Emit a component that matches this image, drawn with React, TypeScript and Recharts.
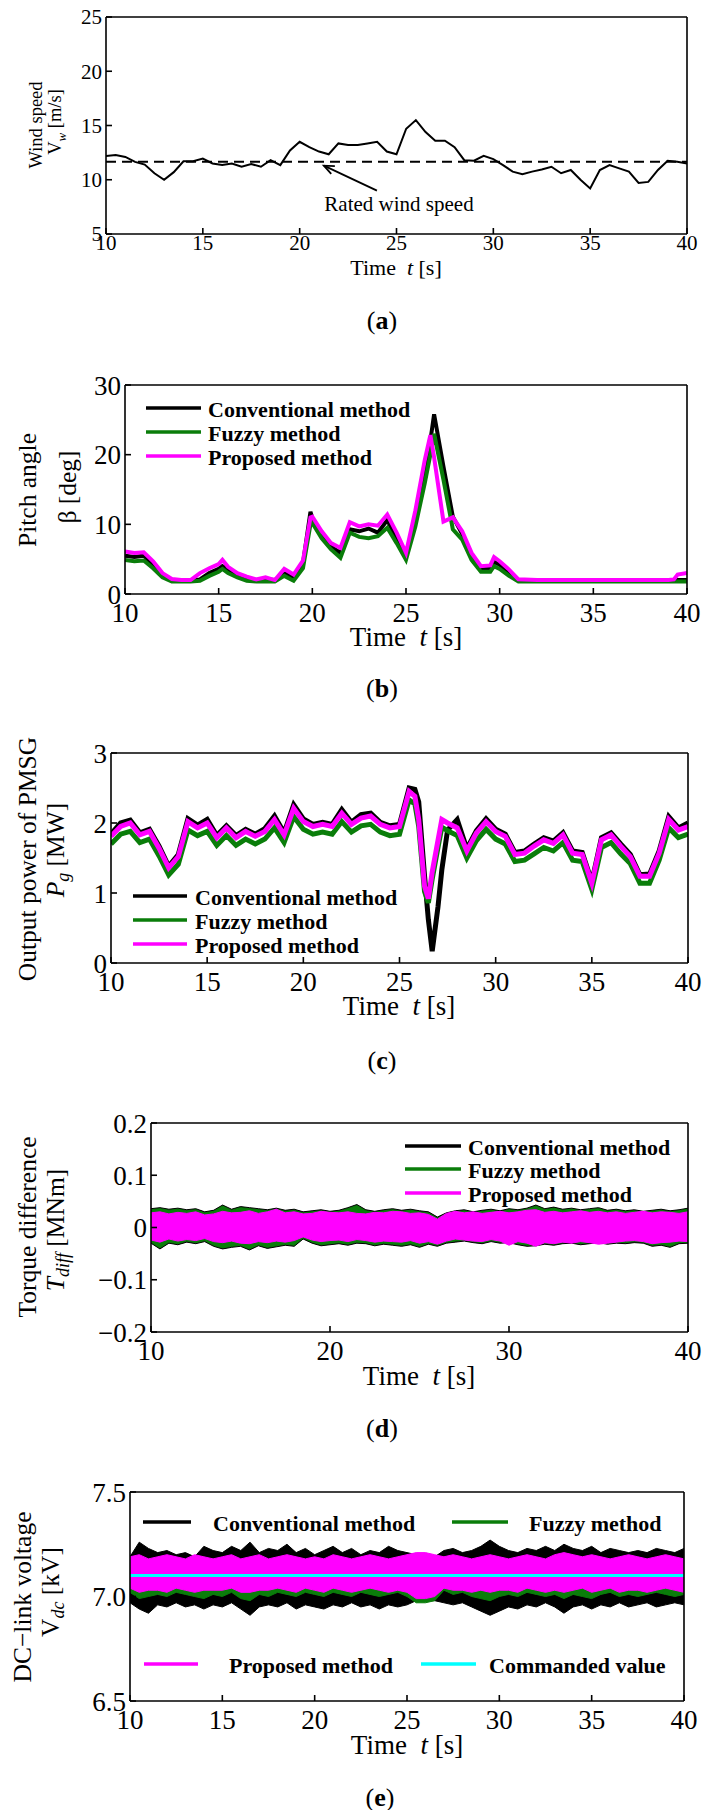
import React from 'react';
import { ComposedChart, Line, Area, XAxis, YAxis, ReferenceLine, ReferenceDot } from 'recharts';

const FONT = '"Liberation Serif", "Times New Roman", serif';
const BLACK = '#000000';
const GREEN = '#0a7d0a';
const MAGENTA = '#ff00ff';
const CYAN = '#00ffff';

// common 0.5 s time grid (panels a, d, e)
const T61 = [
  10, 10.5, 11, 11.5, 12, 12.5, 13, 13.5, 14, 14.5, 15, 15.5, 16, 16.5, 17, 17.5, 18, 18.5, 19, 19.5,
  20, 20.5, 21, 21.5, 22, 22.5, 23, 23.5, 24, 24.5, 25, 25.5, 26, 26.5, 27, 27.5, 28, 28.5, 29, 29.5,
  30, 30.5, 31, 31.5, 32, 32.5, 33, 33.5, 34, 34.5, 35, 35.5, 36, 36.5, 37, 37.5, 38, 38.5, 39, 39.5, 40,
];

// (a) wind speed [m/s]
const WIND = [
  12.2, 12.27, 12.1, 11.65, 11.4, 10.6, 10.0, 10.7, 11.7, 11.7,
  11.95, 11.5, 11.35, 11.5, 11.2, 11.45, 11.2, 11.8, 11.35, 12.7,
  13.5, 13.0, 12.6, 12.35, 13.35, 13.2, 13.2, 13.35, 13.5, 12.6,
  12.35, 14.7, 15.5, 14.4, 13.6, 13.6, 13.0, 11.8, 11.75, 12.2,
  11.9, 11.35, 10.75, 10.5, 10.75, 10.95, 11.2, 10.6, 10.9, 10.0,
  9.2, 10.9, 11.35, 11.05, 10.75, 9.7, 9.8, 10.9, 11.75, 11.65,
  11.5,
];
const RATED_WIND = 11.65;

// (b) pitch angle [deg]
const T_B = [
  10, 10.5, 11, 11.5, 12, 12.5, 13, 13.5, 14, 14.5,
  15, 15.2, 15.5, 16, 16.5, 17, 17.5, 18, 18.5, 19,
  19.5, 19.9, 20, 20.5, 21, 21.5, 22, 22.5, 23, 23.5,
  24, 24.5, 25, 25.5, 26, 26.3, 26.5, 27, 27.5, 28,
  28.5, 29, 29.5, 29.7, 30, 30.5, 31, 32, 33, 34,
  35, 36, 37, 38, 39, 39.3, 39.5, 40,
];
const PITCH_CONV = [
  5.5, 5.3, 5.5, 4.2, 2.8, 2.0, 2.0, 2.0, 2.1, 3.0,
  3.6, 4.0, 3.5, 2.8, 2.3, 2.0, 2.1, 2.0, 3.0, 2.4,
  4.4, 11.8, 10.9, 8.5, 6.8, 5.9, 9.3, 9.0, 9.4, 8.8,
  10.6, 8.0, 5.4, 10.6, 17.3, 22.0, 25.8, 18.3, 11.1, 8.6,
  5.4, 3.7, 3.6, 4.6, 4.2, 3.0, 2.0, 2.0, 2.0, 2.0,
  2.0, 2.0, 2.0, 2.0, 2.0, 2.0, 2.0, 2.0,
];
const PITCH_FUZZY = [
  4.9, 4.7, 4.8, 3.7, 2.4, 1.8, 1.8, 1.8, 1.9, 2.6,
  3.2, 3.6, 3.0, 2.4, 1.9, 1.8, 1.8, 1.8, 2.6, 1.9,
  3.7, 10.0, 10.2, 8.0, 6.4, 5.2, 8.8, 8.2, 8.0, 8.3,
  9.5, 7.3, 4.9, 9.7, 15.9, 20.0, 23.0, 16.4, 9.3, 7.8,
  4.9, 3.2, 3.2, 4.0, 3.6, 2.6, 1.8, 1.8, 1.8, 1.8,
  1.8, 1.8, 1.8, 1.8, 1.8, 1.8, 1.8, 1.8,
];
const PITCH_PROP = [
  6.1, 5.9, 6.0, 4.7, 3.0, 2.15, 2.0, 2.0, 3.0, 3.7,
  4.3, 4.9, 3.9, 3.0, 2.5, 2.1, 2.4, 2.0, 3.6, 2.8,
  4.8, 11.0, 11.1, 9.0, 7.3, 6.6, 10.3, 9.7, 10.0, 9.8,
  11.4, 8.8, 5.9, 12.0, 19.2, 22.8, 19.6, 10.4, 11.0, 9.0,
  5.9, 4.0, 4.1, 5.3, 4.7, 3.5, 2.1, 2.0, 2.0, 2.0,
  2.0, 2.0, 2.0, 2.0, 2.0, 2.1, 2.8, 3.0,
];

// (c) output power of PMSG [MW]
const T_C = [
  10, 10.5, 11, 11.5, 12, 12.5, 13, 13.5, 14, 14.5,
  15, 15.5, 16, 16.5, 17, 17.5, 18, 18.5, 19, 19.5,
  20, 20.5, 21, 21.5, 22, 22.5, 23, 23.5, 24, 24.5,
  25, 25.5, 25.8, 26, 26.3, 26.5, 26.7, 27, 27.2, 27.5,
  28, 28.5, 29, 29.5, 30, 30.5, 31, 31.5, 32, 32.5,
  33, 33.5, 34, 34.5, 35, 35.5, 36, 36.5, 37, 37.5,
  38, 38.5, 39, 39.5, 40,
];
const POWER_CONV = [
  1.84, 2.0, 2.04, 1.86, 1.91, 1.67, 1.38, 1.55, 2.06, 1.97,
  2.05, 1.82, 1.96, 1.82, 1.91, 1.84, 1.92, 2.1, 1.86, 2.26,
  2.06, 1.98, 2.01, 1.98, 2.19, 2.01, 2.12, 2.14, 2.01, 1.96,
  1.98, 2.5, 2.48, 2.3, 1.25, 0.62, 0.17, 0.8, 1.33, 1.9,
  2.05, 1.63, 1.89, 2.06, 1.91, 1.84, 1.58, 1.6, 1.7, 1.79,
  1.74, 1.86, 1.6, 1.58, 1.16, 1.79, 1.86, 1.7, 1.55, 1.26,
  1.27, 1.6, 2.09, 1.93, 2.0,
];
const POWER_FUZZY = [
  1.7, 1.84, 1.88, 1.72, 1.77, 1.53, 1.26, 1.41, 1.9, 1.82,
  1.88, 1.68, 1.82, 1.68, 1.77, 1.7, 1.77, 1.93, 1.72, 2.09,
  1.91, 1.84, 1.87, 1.84, 2.02, 1.87, 1.96, 1.98, 1.87, 1.82,
  1.84, 2.33, 2.27, 1.95, 1.02, 0.86, 1.2, 1.65, 1.94, 1.89,
  1.82, 1.5, 1.75, 1.91, 1.77, 1.7, 1.45, 1.47, 1.56, 1.65,
  1.6, 1.72, 1.47, 1.45, 1.05, 1.65, 1.72, 1.56, 1.42, 1.14,
  1.14, 1.47, 1.93, 1.79, 1.84,
];
const POWER_PROP = [
  1.81, 1.95, 2.0, 1.83, 1.88, 1.64, 1.36, 1.52, 2.02, 1.93,
  2.0, 1.79, 1.93, 1.79, 1.88, 1.81, 1.88, 2.05, 1.83, 2.21,
  2.02, 1.95, 1.98, 1.95, 2.14, 1.98, 2.07, 2.1, 1.98, 1.93,
  1.95, 2.45, 2.38, 2.05, 1.1, 0.92, 1.3, 1.75, 2.05, 2.0,
  1.93, 1.6, 1.86, 2.02, 1.88, 1.81, 1.55, 1.57, 1.67, 1.76,
  1.71, 1.83, 1.57, 1.55, 1.14, 1.76, 1.83, 1.67, 1.52, 1.24,
  1.24, 1.57, 2.05, 1.9, 1.95,
];

// (d) torque difference [MNm], upper / lower envelope of each trace
const TQ_CONV_HI = [
  0.036, 0.038, 0.035, 0.037, 0.034, 0.036, 0.03, 0.033, 0.043, 0.035,
  0.04, 0.038, 0.036, 0.034, 0.037, 0.033, 0.035, 0.03, 0.032, 0.034,
  0.031, 0.033, 0.038, 0.044, 0.034, 0.031, 0.034, 0.036, 0.033, 0.035,
  0.032, 0.03, 0.02, 0.028, 0.032, 0.034, 0.03, 0.033, 0.035, 0.032,
  0.036, 0.034, 0.037, 0.043, 0.036, 0.039, 0.035, 0.037, 0.034, 0.036,
  0.038, 0.033, 0.035, 0.032, 0.034, 0.031, 0.033, 0.035, 0.032, 0.034,
  0.037,
];
const TQ_CONV_LO = [
  -0.03, -0.041, -0.03, -0.033, -0.028, -0.031, -0.027, -0.036, -0.041, -0.038,
  -0.036, -0.043, -0.035, -0.04, -0.037, -0.034, -0.036, -0.022, -0.03, -0.035,
  -0.033, -0.031, -0.034, -0.03, -0.031, -0.035, -0.032, -0.034, -0.036, -0.033,
  -0.038, -0.032, -0.036, -0.03, -0.028, -0.026, -0.029, -0.031, -0.027, -0.03,
  -0.029, -0.033, -0.036, -0.035, -0.032, -0.034, -0.031, -0.03, -0.033, -0.031,
  -0.029, -0.032, -0.03, -0.031, -0.029, -0.03, -0.036, -0.034, -0.038, -0.031,
  -0.03,
];
const TQ_FUZZY_HI = [
  0.034, 0.036, 0.033, 0.035, 0.032, 0.034, 0.028, 0.031, 0.041, 0.033,
  0.038, 0.036, 0.034, 0.032, 0.035, 0.031, 0.033, 0.028, 0.03, 0.032,
  0.029, 0.031, 0.036, 0.042, 0.032, 0.029, 0.032, 0.034, 0.031, 0.033,
  0.03, 0.028, 0.018, 0.026, 0.03, 0.032, 0.028, 0.031, 0.033, 0.03,
  0.034, 0.032, 0.035, 0.041, 0.034, 0.037, 0.033, 0.035, 0.032, 0.034,
  0.036, 0.031, 0.033, 0.03, 0.032, 0.029, 0.031, 0.033, 0.03, 0.032,
  0.035,
];
const TQ_FUZZY_LO = [
  -0.028, -0.039, -0.028, -0.031, -0.026, -0.029, -0.025, -0.034, -0.039, -0.036,
  -0.034, -0.041, -0.033, -0.038, -0.035, -0.032, -0.034, -0.02, -0.028, -0.033,
  -0.031, -0.029, -0.032, -0.028, -0.029, -0.033, -0.03, -0.032, -0.034, -0.031,
  -0.036, -0.03, -0.034, -0.028, -0.026, -0.024, -0.027, -0.029, -0.025, -0.028,
  -0.027, -0.031, -0.034, -0.033, -0.03, -0.032, -0.029, -0.028, -0.031, -0.029,
  -0.027, -0.03, -0.028, -0.029, -0.027, -0.028, -0.034, -0.032, -0.036, -0.029,
  -0.028,
];
const TQ_PROP_HI = [
  0.028, 0.03, 0.026, 0.029, 0.027, 0.03, 0.024, 0.026, 0.031, 0.028,
  0.029, 0.032, 0.027, 0.03, 0.035, 0.028, 0.03, 0.026, 0.027, 0.031,
  0.029, 0.028, 0.03, 0.027, 0.026, 0.029, 0.028, 0.031, 0.03, 0.027,
  0.028, 0.025, 0.016, 0.027, 0.031, 0.028, 0.03, 0.027, 0.029, 0.031,
  0.028, 0.03, 0.033, 0.034, 0.029, 0.031, 0.028, 0.03, 0.032, 0.029,
  0.031, 0.028, 0.03, 0.027, 0.029, 0.031, 0.028, 0.03, 0.029, 0.027,
  0.03,
];
const TQ_PROP_LO = [
  -0.024, -0.028, -0.022, -0.026, -0.023, -0.025, -0.021, -0.027, -0.029, -0.026,
  -0.03, -0.031, -0.027, -0.029, -0.026, -0.028, -0.025, -0.018, -0.024, -0.027,
  -0.025, -0.024, -0.027, -0.023, -0.025, -0.028, -0.026, -0.027, -0.028, -0.025,
  -0.03, -0.027, -0.032, -0.026, -0.022, -0.024, -0.026, -0.027, -0.023, -0.026,
  -0.034, -0.027, -0.03, -0.036, -0.029, -0.031, -0.028, -0.03, -0.027, -0.029,
  -0.032, -0.03, -0.028, -0.026, -0.025, -0.027, -0.031, -0.029, -0.028, -0.026,
  -0.027,
];

// (e) DC-link voltage [kV], upper / lower envelope of each trace
const VDC_CONV_HI = [
  7.19, 7.26, 7.23, 7.21, 7.22, 7.2, 7.21, 7.19, 7.24, 7.22,
  7.21, 7.24, 7.22, 7.26, 7.21, 7.23, 7.22, 7.25, 7.21, 7.23,
  7.2, 7.22, 7.24, 7.21, 7.23, 7.2, 7.22, 7.21, 7.24, 7.22,
  7.21, 7.2, 7.2, 7.19, 7.22, 7.23, 7.21, 7.22, 7.24, 7.27,
  7.24, 7.22, 7.21, 7.23, 7.22, 7.24, 7.22, 7.25, 7.23, 7.22,
  7.24, 7.21, 7.23, 7.22, 7.21, 7.22, 7.21, 7.23, 7.22, 7.21,
  7.23,
];
const VDC_CONV_LO = [
  6.97, 6.94, 6.92, 6.96, 6.95, 6.97, 6.95, 6.96, 6.94, 6.96,
  6.95, 6.97, 6.94, 6.91, 6.95, 6.96, 6.95, 6.97, 6.94, 6.96,
  6.95, 6.94, 6.96, 6.95, 6.97, 6.95, 6.96, 6.94, 6.96, 6.95,
  6.96, 6.98, 6.98, 6.98, 6.97, 6.96, 6.97, 6.95, 6.93, 6.91,
  6.93, 6.95, 6.94, 6.96, 6.95, 6.97, 6.95, 6.92, 6.95, 6.96,
  6.94, 6.96, 6.95, 6.97, 6.95, 6.96, 6.97, 6.95, 6.96, 6.97,
  6.96,
];
const VDC_FUZZY_HI = [
  7.17, 7.16, 7.18, 7.17, 7.16, 7.18, 7.17, 7.16, 7.17, 7.18,
  7.17, 7.18, 7.16, 7.17, 7.18, 7.16, 7.17, 7.18, 7.17, 7.16,
  7.17, 7.16, 7.18, 7.17, 7.16, 7.17, 7.18, 7.17, 7.16, 7.17,
  7.18, 7.19, 7.19, 7.18, 7.17, 7.18, 7.17, 7.16, 7.17, 7.18,
  7.17, 7.16, 7.17, 7.18, 7.17, 7.16, 7.18, 7.19, 7.18, 7.17,
  7.18, 7.17, 7.16, 7.17, 7.18, 7.17, 7.16, 7.17, 7.18, 7.17,
  7.16,
];
const VDC_FUZZY_LO = [
  7.02, 6.99, 7.0, 7.01, 7.0, 7.02, 7.01, 7.0, 6.99, 7.01,
  7.0, 7.02, 6.99, 6.98, 7.01, 7.0, 7.02, 7.01, 7.0, 7.02,
  7.01, 7.0, 7.02, 7.01, 7.0, 7.02, 7.01, 7.0, 7.01, 7.02,
  7.0, 6.97, 6.97, 6.98, 7.03, 7.01, 7.02, 7.0, 6.99, 6.98,
  7.0, 7.01, 7.0, 7.02, 7.01, 7.0, 7.01, 6.99, 7.01, 7.0,
  6.99, 7.01, 7.02, 7.0, 7.01, 7.0, 7.01, 7.02, 7.01, 7.0,
  7.01,
];
const VDC_PROP_HI = [
  7.19, 7.2, 7.18, 7.19, 7.2, 7.19, 7.18, 7.2, 7.19, 7.18,
  7.19, 7.2, 7.18, 7.19, 7.2, 7.18, 7.19, 7.2, 7.19, 7.18,
  7.19, 7.18, 7.2, 7.19, 7.18, 7.19, 7.2, 7.19, 7.18, 7.19,
  7.2, 7.21, 7.21, 7.2, 7.19, 7.2, 7.19, 7.18, 7.19, 7.2,
  7.19, 7.18, 7.19, 7.2, 7.19, 7.18, 7.2, 7.21, 7.2, 7.19,
  7.2, 7.19, 7.18, 7.19, 7.2, 7.19, 7.18, 7.19, 7.2, 7.19,
  7.18,
];
const VDC_PROP_LO = [
  7.04, 7.02, 7.03, 7.03, 7.02, 7.04, 7.03, 7.02, 7.03, 7.03,
  7.03, 7.04, 7.02, 7.02, 7.03, 7.03, 7.04, 7.03, 7.02, 7.04,
  7.03, 7.02, 7.04, 7.03, 7.02, 7.03, 7.04, 7.03, 7.02, 7.03,
  7.02, 6.99, 6.99, 7.0, 7.04, 7.03, 7.03, 7.02, 7.03, 7.02,
  7.03, 7.03, 7.02, 7.04, 7.03, 7.02, 7.03, 7.02, 7.03, 7.04,
  7.02, 7.03, 7.04, 7.02, 7.03, 7.03, 7.02, 7.03, 7.04, 7.03,
  7.02,
];
const VDC_COMMAND = 7.1;

const windRows = T61.map((t, i) => ({ t, v: WIND[i] }));
const pitchRows = T_B.map((t, i) => ({ t, conv: PITCH_CONV[i], fuzzy: PITCH_FUZZY[i], prop: PITCH_PROP[i] }));
const powerRows = T_C.map((t, i) => ({ t, conv: POWER_CONV[i], fuzzy: POWER_FUZZY[i], prop: POWER_PROP[i] }));
const torqueRows = T61.map((t, i) => ({
  t,
  conv: [TQ_CONV_LO[i], TQ_CONV_HI[i]],
  fuzzy: [TQ_FUZZY_LO[i], TQ_FUZZY_HI[i]],
  prop: [TQ_PROP_LO[i], TQ_PROP_HI[i]],
}));
const vdcRows = T61.map((t, i) => ({
  t,
  conv: [VDC_CONV_LO[i], VDC_CONV_HI[i]],
  fuzzy: [VDC_FUZZY_LO[i], VDC_FUZZY_HI[i]],
  prop: [VDC_PROP_LO[i], VDC_PROP_HI[i]],
}));

type Box = { left: number; right: number; top: number; bottom: number };

const AXIS = { stroke: '#000', strokeWidth: 1.6 };

function Panel({
  box, rows, yDomain, yTicks, xTicks, fs, gap, yFmt, children,
}: {
  box: Box; rows: any[]; yDomain: [number, number]; yTicks: number[]; xTicks: number[];
  fs: number; gap: number; yFmt?: (v: number) => string; children: React.ReactNode;
}) {
  const padTop = 24;
  const padBottom = 44;
  const height = box.bottom - box.top + padTop + padBottom;
  const tickStyle = { fontSize: fs, fill: '#000', fontFamily: FONT };
  return (
    <div style={{ position: 'absolute', left: 0, top: box.top - padTop }}>
      <ComposedChart
        width={704}
        height={height}
        data={rows}
        margin={{ top: padTop - 1, right: 704 - box.right - 1, bottom: 0, left: 0 }}
      >
        <XAxis xAxisId="b" dataKey="t" type="number" domain={[10, 40]} ticks={xTicks} interval={0}
          allowDataOverflow height={padBottom} tickSize={-6} tickMargin={gap} tick={tickStyle}
          axisLine={AXIS} tickLine={AXIS} />
        <XAxis xAxisId="t" orientation="top" dataKey="t" type="number" domain={[10, 40]} ticks={xTicks}
          interval={0} allowDataOverflow height={1} tickSize={-6} tick={false} axisLine={AXIS} tickLine={AXIS} />
        <YAxis yAxisId="l" type="number" domain={yDomain} ticks={yTicks} interval={0} allowDataOverflow
          width={box.left} tickSize={-6} tickMargin={10} tick={tickStyle} tickFormatter={yFmt}
          axisLine={AXIS} tickLine={AXIS} />
        <YAxis yAxisId="r" orientation="right" type="number" domain={yDomain} ticks={yTicks} interval={0}
          allowDataOverflow width={1} tickSize={-6} tick={false} axisLine={AXIS} tickLine={AXIS} />
        {children}
      </ComposedChart>
    </div>
  );
}

const ArrowShape = (p: any) => {
  const { x1, y1, x2, y2 } = p;
  const a = Math.atan2(y2 - y1, x2 - x1);
  const L = 11;
  const w = 0.4;
  const ax = x2 - L * Math.cos(a - w);
  const ay = y2 - L * Math.sin(a - w);
  const bx = x2 - L * Math.cos(a + w);
  const by = y2 - L * Math.sin(a + w);
  return (
    <g>
      <line x1={x1} y1={y1} x2={x2} y2={y2} stroke="#000" strokeWidth={1.8} />
      <polyline points={`${ax},${ay} ${x2},${y2} ${bx},${by}`} fill="none" stroke="#000" strokeWidth={1.8} />
    </g>
  );
};

const RatedText = (p: any) => (
  <text x={p.cx} y={p.cy} textAnchor="middle" dominantBaseline="central" fontSize={21} fontFamily={FONT} fill="#000">
    Rated wind speed
  </text>
);

const fmtTorque = (v: number) => (Math.abs(v) < 1e-9 ? '0' : (v < 0 ? '\u2212' : '') + Math.abs(v).toFixed(1));
const fmtVdc = (v: number) => v.toFixed(1);

const X5 = [10, 15, 20, 25, 30, 35, 40];
const X10 = [10, 20, 30, 40];

function VText({ x, y, size, children }: { x: number; y: number; size: number; children: React.ReactNode }) {
  return (
    <text transform={`translate(${x},${y}) rotate(-90)`} textAnchor="middle" dominantBaseline="central" fontSize={size}>
      {children}
    </text>
  );
}

function TimeLabel({ x, y, size }: { x: number; y: number; size: number }) {
  return (
    <text x={x} y={y} textAnchor="middle" dominantBaseline="central" fontSize={size}>
      Time{'\u00a0 '}<tspan fontStyle="italic">t</tspan> [s]
    </text>
  );
}

function Caption({ x, y, letter }: { x: number; y: number; letter: string }) {
  return (
    <text x={x} y={y} textAnchor="middle" dominantBaseline="central" fontSize={26}>
      (<tspan fontWeight="bold">{letter}</tspan>)
    </text>
  );
}

function Key({ x1, x2, tx, y, color, label }: { x1: number; x2: number; tx: number; y: number; color: string; label: string }) {
  return (
    <g>
      <line x1={x1} x2={x2} y1={y} y2={y} stroke={color} strokeWidth={3.5} />
      <text x={tx} y={y + 1} dominantBaseline="central" fontSize={22} fontWeight="bold">{label}</text>
    </g>
  );
}

function Overlay() {
  return (
    <svg width={704} height={1810} style={{ position: 'absolute', left: 0, top: 0, pointerEvents: 'none' }}
      fontFamily={FONT} fill="#000">
      {/* (a) */}
      <VText x={36} y={125} size={18.5}>Wind speed</VText>
      <VText x={55} y={122} size={18.5}>
        V<tspan dy={6} fontSize={13} fontStyle="italic">w</tspan><tspan dy={-6}> [m/s]</tspan>
      </VText>
      <TimeLabel x={396} y={267} size={22} />
      <Caption x={382} y={320} letter="a" />

      {/* (b) */}
      <VText x={27} y={490} size={25.5}>Pitch angle</VText>
      <VText x={67} y={487} size={25.5}>β [deg]</VText>
      <TimeLabel x={406} y={637} size={27} />
      <Caption x={382} y={688} letter="b" />
      <Key x1={146} x2={201} tx={208} y={408} color={BLACK} label="Conventional method" />
      <Key x1={146} x2={201} tx={208} y={432} color={GREEN} label="Fuzzy method" />
      <Key x1={146} x2={201} tx={208} y={456} color={MAGENTA} label="Proposed method" />

      {/* (c) */}
      <VText x={27} y={859} size={25.5}>Output power of PMSG</VText>
      <VText x={55} y={850} size={25.5}>
        <tspan fontStyle="italic">P</tspan><tspan dy={8} fontSize={18} fontStyle="italic">g</tspan><tspan dy={-8}> [MW]</tspan>
      </VText>
      <TimeLabel x={399} y={1006} size={27} />
      <Caption x={382} y={1060} letter="c" />
      <Key x1={133} x2={187} tx={195} y={896} color={BLACK} label="Conventional method" />
      <Key x1={133} x2={187} tx={195} y={920} color={GREEN} label="Fuzzy method" />
      <Key x1={133} x2={187} tx={195} y={944} color={MAGENTA} label="Proposed method" />

      {/* (d) */}
      <VText x={27} y={1227} size={25.5}>Torque difference</VText>
      <VText x={55} y={1230} size={25.5}>
        <tspan fontStyle="italic">T</tspan><tspan dy={8} fontSize={18} fontStyle="italic">diff</tspan><tspan dy={-8}> [MNm]</tspan>
      </VText>
      <TimeLabel x={419} y={1376} size={27} />
      <Caption x={382} y={1428} letter="d" />
      <Key x1={405} x2={461} tx={468} y={1146} color={BLACK} label="Conventional method" />
      <Key x1={405} x2={461} tx={468} y={1169} color={GREEN} label="Fuzzy method" />
      <Key x1={405} x2={461} tx={468} y={1193} color={MAGENTA} label="Proposed method" />

      {/* (e) */}
      <VText x={22} y={1597} size={25.5}>DC−link voltage</VText>
      <VText x={50} y={1592} size={25.5}>
        V<tspan dy={8} fontSize={18} fontStyle="italic">dc</tspan><tspan dy={-8}> [kV]</tspan>
      </VText>
      <TimeLabel x={407} y={1745} size={27} />
      <Caption x={380} y={1797} letter="e" />
      <Key x1={143} x2={191} tx={213} y={1522} color={BLACK} label="Conventional method" />
      <Key x1={452} x2={508} tx={529} y={1522} color={GREEN} label="Fuzzy method" />
      <Key x1={144} x2={198} tx={229} y={1664} color={MAGENTA} label="Proposed method" />
      <Key x1={421} x2={476} tx={489} y={1664} color={CYAN} label="Commanded value" />
    </svg>
  );
}

const lineProps = { xAxisId: 'b', yAxisId: 'l', type: 'linear' as const, dot: false, activeDot: false, isAnimationActive: false };

export default function App() {
  return (
    <div style={{ position: 'absolute', left: 0, top: 0, width: 704, height: 1810, background: '#fff', fontFamily: FONT }}>
      <Panel box={{ left: 106, right: 687, top: 17, bottom: 234 }} rows={windRows} yDomain={[5, 25]}
        yTicks={[5, 10, 15, 20, 25]} xTicks={X5} fs={21} gap={7}>
        <ReferenceLine xAxisId="b" yAxisId="l" y={RATED_WIND} stroke="#000" strokeWidth={2} strokeDasharray="10 6" />
        <Line {...lineProps} dataKey="v" stroke={BLACK} strokeWidth={2} />
        <ReferenceLine xAxisId="b" yAxisId="l" segment={[{ x: 23.99, y: 9.0 }, { x: 21.25, y: 11.3 }]} shape={ArrowShape} />
        <ReferenceDot xAxisId="b" yAxisId="l" x={25.13} y={7.77} r={0} shape={RatedText} />
      </Panel>

      <Panel box={{ left: 125, right: 687, top: 385, bottom: 594 }} rows={pitchRows} yDomain={[0, 30]}
        yTicks={[0, 10, 20, 30]} xTicks={X5} fs={27} gap={15}>
        <Line {...lineProps} dataKey="conv" stroke={BLACK} strokeWidth={4} />
        <Line {...lineProps} dataKey="fuzzy" stroke={GREEN} strokeWidth={4} />
        <Line {...lineProps} dataKey="prop" stroke={MAGENTA} strokeWidth={4} />
      </Panel>

      <Panel box={{ left: 111, right: 688, top: 753, bottom: 963 }} rows={powerRows} yDomain={[0, 3]}
        yTicks={[0, 1, 2, 3]} xTicks={X5} fs={27} gap={15}>
        <Line {...lineProps} dataKey="conv" stroke={BLACK} strokeWidth={5} />
        <Line {...lineProps} dataKey="fuzzy" stroke={GREEN} strokeWidth={5} />
        <Line {...lineProps} dataKey="prop" stroke={MAGENTA} strokeWidth={5} />
      </Panel>

      <Panel box={{ left: 151, right: 688, top: 1123, bottom: 1332 }} rows={torqueRows} yDomain={[-0.2, 0.2]}
        yTicks={[-0.2, -0.1, 0, 0.1, 0.2]} xTicks={X10} fs={27} gap={15} yFmt={fmtTorque}>
        <Area {...lineProps} dataKey="conv" stroke={BLACK} strokeWidth={1} fill={BLACK} fillOpacity={1} />
        <Area {...lineProps} dataKey="fuzzy" stroke={GREEN} strokeWidth={1} fill={GREEN} fillOpacity={1} />
        <Area {...lineProps} dataKey="prop" stroke={MAGENTA} strokeWidth={1} fill={MAGENTA} fillOpacity={1} />
      </Panel>

      <Panel box={{ left: 130, right: 684, top: 1492, bottom: 1701 }} rows={vdcRows} yDomain={[6.5, 7.5]}
        yTicks={[6.5, 7.0, 7.5]} xTicks={X5} fs={27} gap={15} yFmt={fmtVdc}>
        <Area {...lineProps} dataKey="conv" stroke={BLACK} strokeWidth={1} fill={BLACK} fillOpacity={1} />
        <Area {...lineProps} dataKey="fuzzy" stroke={GREEN} strokeWidth={1} fill={GREEN} fillOpacity={1} />
        <Area {...lineProps} dataKey="prop" stroke={MAGENTA} strokeWidth={1} fill={MAGENTA} fillOpacity={1} />
        <ReferenceLine xAxisId="b" yAxisId="l" y={VDC_COMMAND} stroke={CYAN} strokeWidth={3} />
      </Panel>

      <Overlay />
    </div>
  );
}
